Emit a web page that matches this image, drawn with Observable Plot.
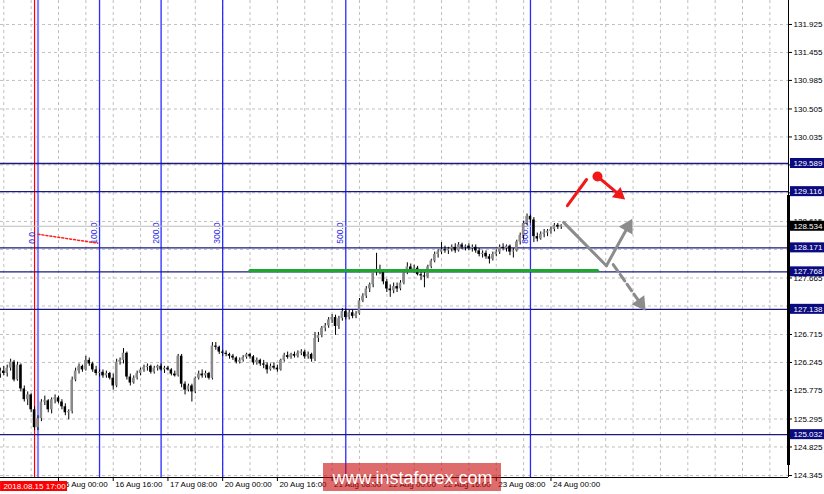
<!DOCTYPE html>
<html><head><meta charset="utf-8">
<script src="https://cdn.jsdelivr.net/npm/d3@7"></script>
<script src="https://cdn.jsdelivr.net/npm/@observablehq/plot@0.6"></script>
<style>html,body{margin:0;padding:0;background:#fff;} svg{display:block;}</style>
</head><body><div id="chart"></div>
<script>
// H1 candles, bar index 0 = 15 Aug 07:00 (trading hours only) : [open, high, low, close]
const candles = [
[126.05,126.15,125.98,126.10],[126.10,126.18,126.02,126.06],[126.06,126.20,126.00,126.15],[126.15,126.30,126.10,126.25],
[126.25,126.28,125.92,125.95],[125.95,126.25,125.93,126.20],[126.20,126.22,125.75,125.80],[125.80,125.85,125.58,125.62],
[125.62,125.75,125.52,125.70],[125.70,125.72,125.40,125.45],[125.45,125.50,125.10,125.15],[125.15,125.35,125.10,125.30],
[125.30,125.62,125.25,125.58],[125.58,125.68,125.52,125.60],[125.60,125.62,125.40,125.45],[125.45,125.65,125.38,125.62],
[125.62,125.70,125.55,125.65],[125.65,125.68,125.55,125.58],[125.58,125.62,125.45,125.50],[125.50,125.55,125.35,125.40],
[125.40,125.45,125.28,125.42],[125.42,126.00,125.38,125.95],[125.95,126.15,125.92,126.10],[126.10,126.22,126.05,126.18],
[126.18,126.20,126.08,126.12],[126.12,126.35,126.10,126.28],[126.28,126.32,126.18,126.22],[126.22,126.25,126.08,126.12],
[126.12,126.18,126.02,126.06],[126.06,126.12,126.00,126.08],[126.08,126.12,125.98,126.02],[126.02,126.10,125.98,126.06],
[126.06,126.08,125.95,125.98],[125.98,126.05,125.78,125.85],[125.85,126.30,125.82,126.25],[126.25,126.32,126.20,126.28],
[126.28,126.48,126.22,126.40],[126.40,126.42,125.95,126.00],[126.00,126.05,125.85,125.90],[125.90,126.02,125.88,125.98],
[125.98,126.10,125.95,126.06],[126.06,126.15,126.02,126.12],[126.12,126.20,126.08,126.16],[126.16,126.22,126.10,126.18],
[126.18,126.20,126.05,126.08],[126.08,126.18,126.05,126.15],[126.15,126.20,126.10,126.18],[126.18,126.22,126.10,126.12],
[126.12,126.18,126.06,126.15],[126.15,126.18,126.10,126.12],[126.12,126.14,126.02,126.05],[126.05,126.10,126.00,126.02],
[126.02,126.38,126.00,126.35],[126.35,126.38,125.82,125.88],[125.88,125.92,125.70,125.78],[125.78,125.88,125.75,125.85],
[125.85,125.88,125.58,125.75],[125.75,126.00,125.72,125.98],[125.98,126.10,125.95,126.05],[126.05,126.12,125.98,126.02],
[126.02,126.10,125.98,126.06],[126.06,126.08,125.95,125.98],[125.98,126.58,125.95,126.52],[126.52,126.58,126.45,126.50],
[126.50,126.52,126.38,126.42],[126.42,126.45,126.35,126.40],[126.40,126.44,126.34,126.38],[126.38,126.40,126.30,126.35],
[126.35,126.38,126.28,126.32],[126.32,126.34,126.22,126.25],[126.25,126.32,126.22,126.28],[126.28,126.36,126.25,126.33],
[126.33,126.40,126.30,126.38],[126.38,126.40,126.30,126.34],[126.34,126.36,126.20,126.24],[126.24,126.32,126.20,126.28],
[126.28,126.30,126.18,126.22],[126.22,126.28,126.14,126.20],[126.20,126.24,126.05,126.12],[126.12,126.22,126.10,126.18],
[126.18,126.24,126.12,126.15],[126.15,126.20,126.08,126.12],[126.12,126.30,126.10,126.28],[126.28,126.40,126.25,126.36],
[126.36,126.42,126.30,126.33],[126.33,126.40,126.30,126.38],[126.38,126.42,126.32,126.35],[126.35,126.44,126.32,126.40],
[126.40,126.46,126.36,126.42],[126.42,126.45,126.30,126.34],[126.34,126.42,126.30,126.38],[126.38,126.40,126.25,126.30],
[126.30,126.75,126.26,126.65],[126.65,126.75,126.58,126.70],[126.70,126.85,126.66,126.82],[126.82,126.90,126.76,126.86],
[126.86,127.00,126.82,126.96],[126.96,127.05,126.90,127.00],[127.00,127.04,126.70,126.85],[126.85,127.02,126.80,126.98],
[126.98,127.15,126.94,127.10],[127.10,127.14,126.96,127.00],[127.00,127.12,126.96,127.08],[127.08,127.12,126.98,127.02],
[127.02,127.10,126.98,127.06],[127.06,127.32,127.04,127.28],[127.28,127.40,127.25,127.36],[127.36,127.52,127.32,127.48],
[127.48,127.58,127.42,127.55],[127.55,127.80,127.50,127.76],[127.76,128.08,127.70,127.80],[127.80,127.88,127.72,127.78],
[127.78,127.80,127.55,127.60],[127.60,127.64,127.42,127.48],[127.48,127.55,127.34,127.45],[127.45,127.58,127.40,127.52],
[127.52,127.58,127.42,127.48],[127.48,127.62,127.45,127.58],[127.58,127.78,127.55,127.75],[127.75,127.92,127.72,127.85],
[127.85,127.90,127.76,127.80],[127.80,127.88,127.75,127.83],[127.83,127.86,127.70,127.72],[127.72,127.80,127.62,127.70],
[127.70,127.76,127.50,127.68],[127.68,127.88,127.66,127.85],[127.85,127.98,127.82,127.95],[127.95,128.10,127.92,128.06],
[128.06,128.14,128.00,128.10],[128.10,128.26,128.06,128.14],[128.14,128.20,128.08,128.12],[128.12,128.18,128.06,128.15],
[128.15,128.22,128.10,128.18],[128.18,128.24,128.08,128.12],[128.12,128.26,128.10,128.22],[128.22,128.25,128.14,128.18],
[128.18,128.22,128.12,128.20],[128.20,128.24,128.12,128.16],[128.16,128.22,128.10,128.18],[128.18,128.22,128.08,128.12],
[128.12,128.16,128.02,128.06],[128.06,128.12,128.00,128.08],[128.08,128.12,127.98,128.02],[128.02,128.06,127.90,127.98],
[127.98,128.10,127.95,128.06],[128.06,128.14,128.02,128.10],[128.10,128.22,128.06,128.18],[128.18,128.24,128.12,128.16],
[128.16,128.22,128.10,128.20],[128.20,128.22,128.04,128.10],[128.10,128.16,128.00,128.12],[128.12,128.30,128.10,128.27],
[128.27,128.42,128.22,128.38],[128.38,128.62,128.30,128.58],[128.58,128.74,128.55,128.70],[128.70,128.72,128.58,128.64],
[128.64,128.68,128.26,128.36],[128.36,128.42,128.27,128.32],[128.32,128.44,128.30,128.40],[128.40,128.48,128.34,128.42],
[128.42,128.48,128.36,128.45],[128.45,128.52,128.40,128.48],[128.48,128.58,128.44,128.55],[128.55,128.58,128.48,128.52],
[128.52,128.56,128.48,128.534]
];
const levelPrices = [129.589, 129.116, 128.171, 127.768, 127.138, 125.032];
const levelLabels = ["129.589", "129.116", "128.171", "127.768", "127.138", "125.032"];
const currentPrice = 128.534;
const currentLabel = "128.534";
const priceTicks = [131.925, 131.455, 130.985, 130.505, 130.035, 129.565, 129.095, 128.615, 128.145, 127.665, 127.195, 126.715, 126.245, 125.775, 125.295, 124.825, 124.345];
const priceTickLabels = ["131.925", "131.455", "130.985", "130.505", "130.035", "129.565", "129.095", "128.615", "128.145", "127.665", "127.195", "126.715", "126.245", "125.775", "125.295", "124.825", "124.345"];
const timeTickBars = [17, 33, 49, 65, 81, 97, 113, 129, 145, 161];
const timeTickLabels = ["16 Aug 00:00", "16 Aug 16:00", "17 Aug 08:00", "20 Aug 00:00", "20 Aug 16:00", "21 Aug 08:00", "22 Aug 00:00", "22 Aug 16:00", "23 Aug 08:00", "24 Aug 00:00"];
const gridBars = [1, 9, 17, 25, 33, 41, 49, 57, 65, 73, 81, 89, 97, 105, 113, 121, 129, 137, 145, 153, 161, 169, 177, 185, 193, 201, 209, 217, 225];
const fibBars = [11, 29, 47, 65, 101, 155];
const fibLabels = ["0.0", "100.0", "200.0", "300.0", "500.0", "800.0"];
const fibLabelPrice = 128.24;
const markerBar = 10;
const markerLabel = "2018.08.15 17:00";
const fibTrend = [[11, 128.40], [28.5, 128.25]];
const supportLine = [[73, 127.79], [174.6, 127.79]];
const redStroke = [[165.8, 128.88], [171.4, 129.32]];
const redDot = [[174.6, 129.37]];
const redArrow = [[174.6, 129.37], [181.9, 129.02]];
const grayStroke = [[164.7, 128.60], [177.2, 127.87]];
const grayUpArrow = [[177.2, 127.87], [184.2, 128.60]];
const grayDownArrow = [[179.2, 127.89], [188.0, 127.17]];
const watermark = "www.instaforex.com";

// layout
const W = 824, H = 494, mL = 0, mR = 36, mT = 0, mB = 17;
const xDomain = [0.04, 230.45];
const yDomain = [124.312, 132.328];
const xs = d3.scaleLinear(xDomain, [mL, W - mR]);
const ys = d3.scaleLinear(yDomain, [H - mB, mT]);
const px = v => xs.invert(v) - xs.invert(0);
const py = v => ys.invert(0) - ys.invert(v);

const bars = candles.map((d, i) => ({i, o: d[0], h: d[1], l: d[2], c: d[3], up: d[3] >= d[0]}));

function arrowParts(seg, r) {
  const [a, b] = seg;
  const x0 = xs(a[0]), y0 = ys(a[1]), x1 = xs(b[0]), y1 = ys(b[1]);
  const dx = x1 - x0, dy = y1 - y0, L = Math.hypot(dx, dy);
  const k = Math.sqrt(Math.PI * r * r / (Math.sqrt(3) * 3));
  const cx = x1 - dx / L * k * 2 * 0.55, cy = y1 - dy / L * k * 2 * 0.55;
  const sx = x1 - dx / L * k * 2 * 0.9, sy = y1 - dy / L * k * 2 * 0.9;
  return {
    shaft: [[a[0], a[1]], [xs.invert(sx), ys.invert(sy)]],
    head: [{x: xs.invert(cx), y: ys.invert(cy), a: Math.atan2(dx, -dy) * 180 / Math.PI}]
  };
}
const redA = arrowParts(redArrow, 5);
const grayU = arrowParts(grayUpArrow, 5.8);
const grayD = arrowParts(grayDownArrow, 5.8);

const xR = xDomain[1];
const boxX1 = xs.invert(790), boxX2 = xs.invert(824);
const boxH = py(5);

const chart = Plot.plot({
  width: W, height: H,
  marginLeft: mL, marginRight: mR, marginTop: mT, marginBottom: mB,
  x: {domain: xDomain, axis: null},
  y: {domain: yDomain, axis: null},
  style: {fontFamily: "'Liberation Sans', Arial, sans-serif", fontSize: "8px", background: "#fff", overflow: "visible"},
  marks: [
    // grid
    Plot.ruleY(priceTicks, {stroke: "#c0c0c0", strokeDasharray: "3,3", strokeWidth: 1}),
    Plot.ruleX(gridBars, {stroke: "#c0c0c0", strokeDasharray: "3,3", strokeWidth: 1}),
    // fibonacci time zones
    Plot.ruleX([fibBars[0]], {stroke: "#8585ff", strokeWidth: 2.2}),
    Plot.ruleX(fibBars.slice(1), {stroke: "#2a2aff", strokeWidth: 1.3}),
    Plot.ruleX([markerBar], {stroke: "#ff0000", strokeWidth: 1.2}),
    Plot.text(fibBars, {x: d => d, y: fibLabelPrice, text: (d, i) => fibLabels[i], rotate: -90, textAnchor: "start", lineAnchor: "bottom", dx: -2.5, fill: "#2c2ce6", fontSize: 8.5}),
    Plot.line(fibTrend, {x: "0", y: "1", stroke: "#ff2020", strokeWidth: 1.5, strokeDasharray: "2,2"}),
    // horizontal levels
    Plot.ruleY([currentPrice], {stroke: "#bdbdbd", strokeWidth: 1.2}),
    Plot.ruleY(levelPrices, {stroke: "#1a1a80", strokeWidth: 1.3}),
    // candles
    Plot.ruleX(bars, {x: "i", y1: "l", y2: "h", stroke: "#000", strokeWidth: 1}),
    Plot.rect(bars, {x1: d => d.i - px(1.25), x2: d => d.i + px(1.25), y1: d => Math.min(d.o, d.c), y2: d => Math.max(d.o, d.c) + (Math.abs(d.o - d.c) < py(1) ? py(1) : 0), fill: d => d.up ? "#8a8a8a" : "#000"}),
    // support line
    Plot.line(supportLine, {x: "0", y: "1", stroke: "#1fa532", strokeWidth: 3.2}),
    // red scenario
    Plot.line(redStroke, {x: "0", y: "1", stroke: "#f01818", strokeWidth: 3}),
    Plot.line(redA.shaft, {x: "0", y: "1", stroke: "#f01818", strokeWidth: 3}),
    Plot.dot(redA.head, {x: "x", y: "y", rotate: "a", symbol: "triangle", r: 5, fill: "#f01818", stroke: "none"}),
    Plot.dot(redDot, {x: "0", y: "1", r: 5, fill: "#f01818", stroke: "none"}),
    // gray scenario
    Plot.line(grayStroke, {x: "0", y: "1", stroke: "#8c8c8c", strokeWidth: 3}),
    Plot.line(grayU.shaft, {x: "0", y: "1", stroke: "#8c8c8c", strokeWidth: 3}),
    Plot.dot(grayU.head, {x: "x", y: "y", rotate: "a", symbol: "triangle", r: 5.8, fill: "#8c8c8c", stroke: "none"}),
    Plot.line(grayD.shaft, {x: "0", y: "1", stroke: "#8c8c8c", strokeWidth: 3, strokeDasharray: "8,4"}),
    Plot.dot(grayD.head, {x: "x", y: "y", rotate: "a", symbol: "triangle", r: 5.8, fill: "#8c8c8c", stroke: "none"}),
    // axes
    Plot.ruleY([yDomain[0]], {stroke: "#000", strokeWidth: 1}),
    Plot.ruleX([xR], {stroke: "#000", strokeWidth: 1}),
    Plot.ruleX([xR], {y1: ys.invert(195), y2: ys.invert(465), stroke: "#000", strokeWidth: 3}),
    Plot.ruleY(priceTicks, {x1: xR, x2: xR + px(4), stroke: "#000"}),
    Plot.text(priceTicks, {y: d => d, text: (d, i) => priceTickLabels[i], frameAnchor: "right", dx: 5, textAnchor: "start", fill: "#000", fontSize: 8}),
    Plot.ruleX(timeTickBars, {y1: yDomain[0], y2: yDomain[0] - py(4), stroke: "#000"}),
    Plot.text(timeTickBars, {x: d => d, text: (d, i) => timeTickLabels[i], frameAnchor: "bottom", dy: 9, dx: 2, textAnchor: "start", fill: "#000", fontSize: 8}),
    // level label boxes
    Plot.rect(levelPrices, {x1: boxX1, x2: boxX2, y1: d => d - boxH, y2: d => d + boxH, fill: "#0b0b80"}),
    Plot.text(levelPrices, {y: d => d, text: (d, i) => levelLabels[i], frameAnchor: "right", dx: 5, textAnchor: "start", fill: "#fff", fontSize: 8}),
    Plot.rect([currentPrice], {x1: boxX1, x2: boxX2, y1: d => d - boxH, y2: d => d + boxH, fill: "#000"}),
    Plot.text([currentPrice], {y: d => d, text: [currentLabel], frameAnchor: "right", dx: 5, textAnchor: "start", fill: "#fff", fontSize: 8}),
    // marker label
    Plot.rect([markerBar], {x1: d => d - px(34), x2: d => d + px(33), y1: ys.invert(491), y2: ys.invert(481), fill: "#ff0000"}),
    Plot.text([markerBar], {x: d => d, y: ys.invert(486), text: [markerLabel], fill: "#fff", fontSize: 8}),
    // watermark
    Plot.rect([0], {x1: xs.invert(323), x2: xs.invert(501), y1: ys.invert(491), y2: ys.invert(463), fill: "rgb(200,10,10)", fillOpacity: 0.6}),
    Plot.text([0], {x: xs.invert(412), y: ys.invert(478), text: [watermark], fill: "#fff", fontSize: 18, fontFamily: "'Liberation Sans', Arial, sans-serif"})
  ]
});
document.getElementById("chart").appendChild(chart);
</script>
</body></html>
